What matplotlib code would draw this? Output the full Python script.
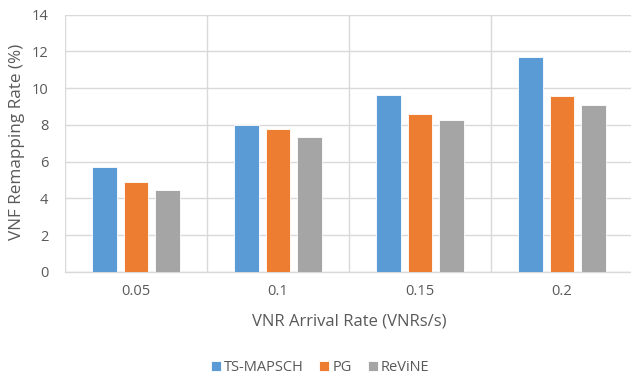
import matplotlib
matplotlib.use("Agg")
import matplotlib.pyplot as plt
import numpy as np

categories = ["0.05", "0.1", "0.15", "0.2"]
series_names = ["TS-MAPSCH", "PG", "ReViNE"]
ts_mapsch = [5.72, 7.99, 9.64, 11.68]
pg = [4.89, 7.75, 8.61, 9.59]
revine = [4.45, 7.32, 8.25, 9.06]
y_ticks = [0, 2, 4, 6, 8, 10, 12, 14]

COLORS = ["#5B9BD5", "#ED7D31", "#A5A5A5"]
GRID = "#D9D9D9"
TEXT = "#595959"

plt.rcParams["font.family"] = ["Open Sans", "DejaVu Sans"]

fig = plt.figure(figsize=(6.31, 3.82), dpi=100)
ax = fig.add_axes([0.103, 0.2887, 0.9002, 0.6728])

x = np.arange(len(categories))
width = 0.174
step = 0.222
for i, (name, vals) in enumerate(zip(series_names, [ts_mapsch, pg, revine])):
    ax.bar(x + (i - 1) * step, vals, width=width, color=COLORS[i],
           edgecolor="white", linewidth=0.6, label=name, zorder=3)

ax.set_xlim(-0.5, len(categories) - 0.5)
ax.set_ylim(0, 14)
ax.set_yticks(y_ticks)
ax.set_xticks(x)
ax.set_xticklabels(categories)
ax.set_xticks(np.arange(-0.5, len(categories), 1), minor=True)
ax.grid(axis="y", which="major", color=GRID, linewidth=1.0, zorder=0)
ax.grid(axis="x", which="minor", color=GRID, linewidth=1.0, zorder=0)
ax.grid(axis="x", which="major", visible=False)
ax.tick_params(which="both", length=0, colors=TEXT, labelsize=10.5)
ax.tick_params(axis="x", pad=9)
ax.tick_params(axis="y", pad=12)
for s in ["top", "right", "left"]:
    ax.spines[s].set_visible(False)
ax.spines["bottom"].set_color(GRID)
ax.spines["bottom"].set_linewidth(1.0)

ax.set_ylabel("VNF Remapping Rate (%)", fontsize=12.3, color=TEXT)
ax.yaxis.set_label_coords(-0.070, 0.505)
ax.set_xlabel("VNR Arrival Rate (VNRs/s)", fontsize=12, color=TEXT)
ax.xaxis.set_label_coords(0.5, -0.162)

leg = fig.legend(loc="center", bbox_to_anchor=(0.507, 0.037), ncol=3, frameon=False,
                 fontsize=10.5, handlelength=0.68, handleheight=0.68, handletextpad=0.2,
                 columnspacing=1.1)
for t in leg.get_texts():
    t.set_color(TEXT)

fig.savefig("out.png", dpi=100)
